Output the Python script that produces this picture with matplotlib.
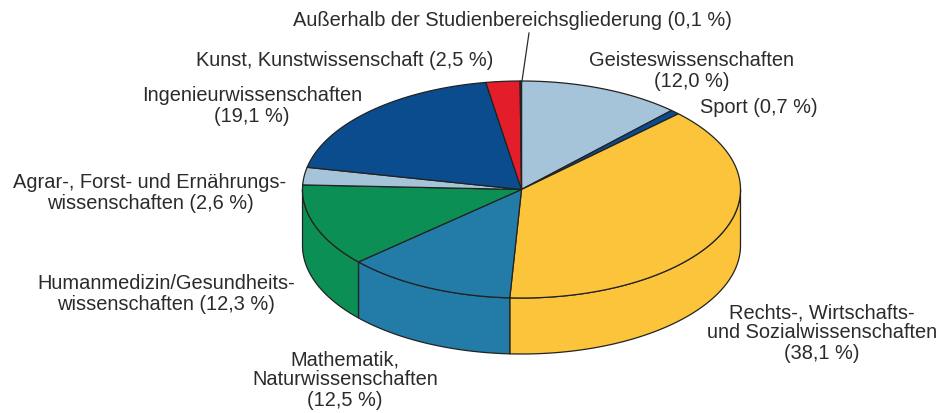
import matplotlib.pyplot as plt
import numpy as np
from matplotlib.patches import Polygon

plt.rcParams['font.family'] = ['Liberation Sans', 'DejaVu Sans']

# Data (share of students in %), clockwise from 12 o'clock
labels = ['Geisteswissenschaften\n(12,0 %)',
          'Sport (0,7 %)',
          'Rechts-, Wirtschafts-\nund Sozialwissenschaften\n(38,1 %)',
          'Mathematik,\nNaturwissenschaften\n(12,5 %)',
          'Humanmedizin/Gesundheits-\nwissenschaften (12,3 %)',
          'Agrar-, Forst- und Ernährungs-\nwissenschaften (2,6 %)',
          'Ingenieurwissenschaften\n(19,1 %)',
          'Kunst, Kunstwissenschaft (2,5 %)',
          'Außerhalb der Studienbereichsgliederung (0,1 %)']
values = [12.0, 0.7, 38.1, 12.5, 12.3, 2.6, 19.1, 2.5, 0.1]
colors = ['#a5c3d9', '#0b4c8f', '#fbc43b', '#237ba8', '#0b8f55',
          '#a5c3d9', '#0b4c8f', '#e31e2a', '#333333']

# label anchor positions (pixels) and alignment
label_pos = [(692, 71), (700, 108), (822, 333), (345, 380), (166, 294),
             (150, 193), (252, 106), (345, 60), (512, 20)]
label_ha = ['center', 'left', 'center', 'center', 'center',
            'center', 'center', 'center', 'center']

# pie geometry in pixels
cx, cy = 521.5, 190.5
rx, ry = 219, 108.5
depth = 56
edge = '#222222'

fig = plt.figure(figsize=(9.43, 4.14), dpi=100)
ax = fig.add_axes([0, 0, 1, 1])
ax.set_xlim(0, 943)
ax.set_ylim(414, 0)
ax.axis('off')


def pt(theta, dy=0):
    return cx + rx * np.cos(theta), cy - ry * np.sin(theta) + dy


total = sum(values)
bounds = 90 - 360 * np.concatenate([[0], np.cumsum(values)]) / total

# side faces (only the front half is visible)
for i in range(len(values)):
    a1, a2 = bounds[i + 1], bounds[i]  # a1 < a2
    # front half spans angles in [-180, 0] (mod 360)
    for shift in (0, -360, 360):
        lo = max(a1 + shift, -180)
        hi = min(a2 + shift, 0)
        if hi <= lo:
            continue
        th = np.radians(np.linspace(lo, hi, 80))
        xs, ys = pt(th)
        xb, yb = pt(th[::-1], depth)
        poly = np.column_stack([np.concatenate([xs, xb]), np.concatenate([ys, yb])])
        ax.add_patch(Polygon(poly, closed=True, facecolor=colors[i],
                             edgecolor=edge, linewidth=0.9, joinstyle='round'))

# top faces
for i in range(len(values)):
    a1, a2 = bounds[i + 1], bounds[i]
    th = np.radians(np.linspace(a1, a2, max(int((a2 - a1) * 2), 4)))
    xs, ys = pt(th)
    poly = np.column_stack([np.concatenate([[cx], xs]), np.concatenate([[cy], ys])])
    ax.add_patch(Polygon(poly, closed=True, facecolor=colors[i],
                         edgecolor=edge, linewidth=0.9, joinstyle='round'))

# labels
for lab, (x, y), ha in zip(labels, label_pos, label_ha):
    ax.text(x, y, lab, ha=ha, va='center', fontsize=14.4, color='#2b2b2b',
            linespacing=1.08)

# leader line for the tiny slice
ax.plot([529, 522], [34, 82], color='#2b2b2b', linewidth=0.9)

fig.savefig('out.png', dpi=100)
